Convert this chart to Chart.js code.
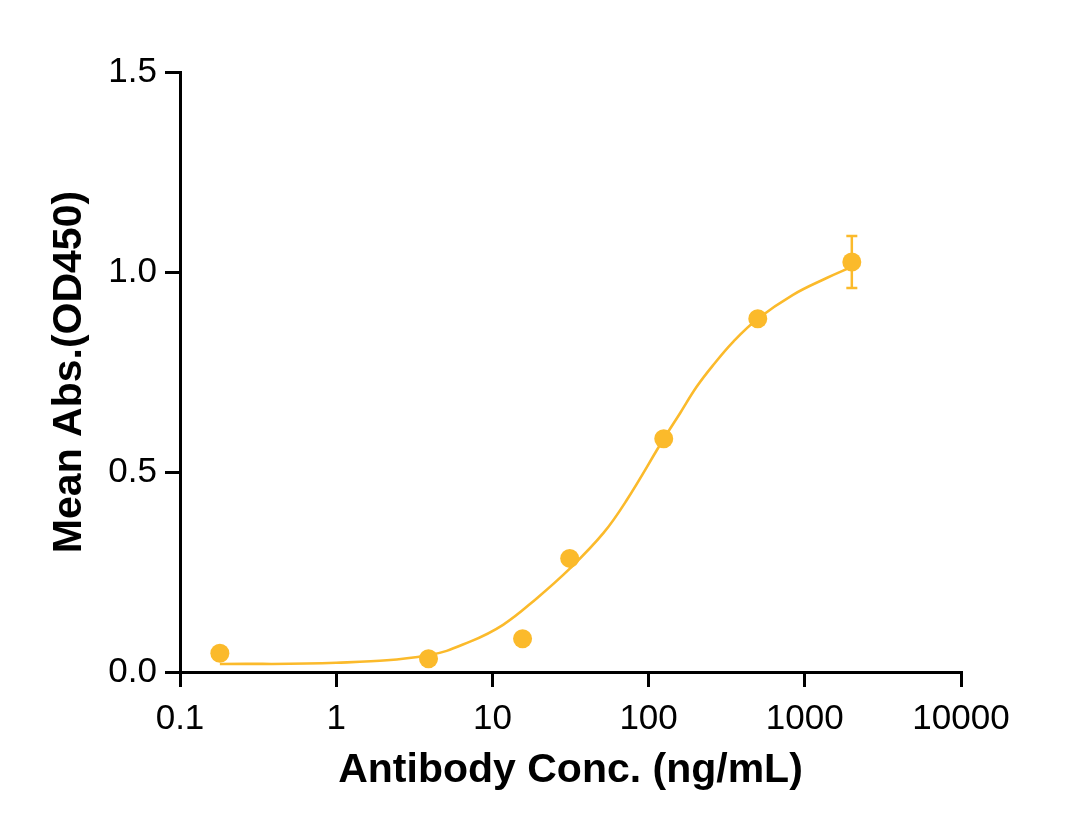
<!DOCTYPE html>
<html>
<head>
<meta charset="utf-8">
<script src="https://cdn.jsdelivr.net/npm/chart.js@4/dist/chart.umd.min.js"></script>
<style>
  html, body { margin: 0; padding: 0; background: #fff; }
  #grafico { display: block; }
</style>
</head>
<body>
<canvas id="grafico" width="1082" height="837"></canvas>
<script>
// measured points (ng/mL vs OD450)
const concentraciones = [0.18, 3.9, 15.6, 31.25, 125, 500, 2000];
const absorbancias = [0.047, 0.033, 0.083, 0.284, 0.583, 0.883, 1.025];
const errores = [0.005, 0.005, 0.005, 0.008, 0.008, 0.008, 0.065];

// fitted curve
const curvaX = [0.18, 1, 3.9, 7.2, 11.7, 19.2, 31.4, 51.3, 72.5, 125, 159, 203, 260, 349, 500, 840, 1380, 2000];
const curvaY = [0.020, 0.023, 0.042, 0.076, 0.118, 0.184, 0.259, 0.347, 0.430, 0.583, 0.647, 0.713, 0.768, 0.826, 0.883, 0.943, 0.985, 1.013];

const xTicks = [0.1, 1, 10, 100, 1000, 10000];
const xTickLabels = ["0.1", "1", "10", "100", "1000", "10000"];
const yTicks = [0, 0.5, 1.0, 1.5];

const color = "#FBBA2B";
const fuente = "'Liberation Sans', Arial, sans-serif";

const puntos = concentraciones.map((c, i) => ({ x: c, y: absorbancias[i] }));
const curva = curvaX.map((c, i) => ({ x: c, y: curvaY[i] }));

// error bars under the dots
const barrasError = {
    id: "barrasError",
    beforeDatasetsDraw(chart) {
        const ctx = chart.ctx;
        const xs = chart.scales.x;
        const ys = chart.scales.y;
        ctx.save();
        ctx.strokeStyle = color;
        ctx.lineWidth = 2.5;
        concentraciones.forEach((c, i) => {
            const px = xs.getPixelForValue(c);
            const top = ys.getPixelForValue(absorbancias[i] + errores[i]);
            const bot = ys.getPixelForValue(absorbancias[i] - errores[i]);
            ctx.beginPath();
            ctx.moveTo(px, top);
            ctx.lineTo(px, bot);
            ctx.moveTo(px - 5.5, top);
            ctx.lineTo(px + 5.5, top);
            ctx.moveTo(px - 5.5, bot);
            ctx.lineTo(px + 5.5, bot);
            ctx.stroke();
        });
        ctx.restore();
    }
};

new Chart(document.getElementById("grafico").getContext("2d"), {
    type: "scatter",
    data: {
        datasets: [
            {
                label: "Mean",
                data: puntos,
                backgroundColor: color,
                borderColor: color,
                pointRadius: 9.5,
                pointBorderWidth: 0,
                showLine: false
            },
            {
                label: "Fit",
                data: curva,
                showLine: true,
                borderColor: color,
                borderWidth: 2.6,
                pointRadius: 0,
                tension: 0.4,
                fill: false
            }
        ]
    },
    options: {
        responsive: false,
        animation: false,
        devicePixelRatio: 1,
        layout: { padding: { top: 72, right: 121, left: 0, bottom: 0 } },
        plugins: {
            legend: { display: false },
            tooltip: { enabled: false }
        },
        scales: {
            x: {
                type: "logarithmic",
                position: "bottom",
                min: 0.1,
                max: 10000,
                afterBuildTicks: (scale) => {
                    scale.ticks = xTicks.map(v => ({ value: v }));
                },
                afterFit: (scale) => { scale.height = 165; },
                ticks: {
                    autoSkip: false,
                    maxRotation: 0,
                    color: "#000",
                    padding: 11,
                    font: { family: fuente, size: 35 },
                    callback: (v) => xTickLabels[xTicks.indexOf(v)]
                },
                grid: {
                    drawOnChartArea: false,
                    drawTicks: true,
                    tickLength: 15,
                    color: "#000",
                    lineWidth: 3
                },
                border: { display: true, color: "#000", width: 3 },
                title: {
                    display: true,
                    text: "Antibody Conc. (ng/mL)",
                    color: "#000",
                    font: { family: fuente, size: 41, weight: "bold" },
                    padding: { top: 0, bottom: 42 }
                }
            },
            y: {
                type: "linear",
                min: 0,
                max: 1.5,
                afterBuildTicks: (scale) => {
                    scale.ticks = yTicks.map(v => ({ value: v }));
                },
                afterFit: (scale) => { scale.width = 180; },
                ticks: {
                    color: "#000",
                    padding: 8,
                    font: { family: fuente, size: 35 },
                    callback: (v) => v.toFixed(1)
                },
                grid: {
                    drawOnChartArea: false,
                    drawTicks: true,
                    tickLength: 15,
                    color: "#000",
                    lineWidth: 3
                },
                border: { display: true, color: "#000", width: 3 },
                title: {
                    display: true,
                    text: "Mean Abs.(OD450)",
                    color: "#000",
                    font: { family: fuente, size: 41, weight: "bold" },
                    padding: { top: 45, bottom: 0 }
                }
            }
        }
    },
    plugins: [barrasError]
});
</script>
</body>
</html>
